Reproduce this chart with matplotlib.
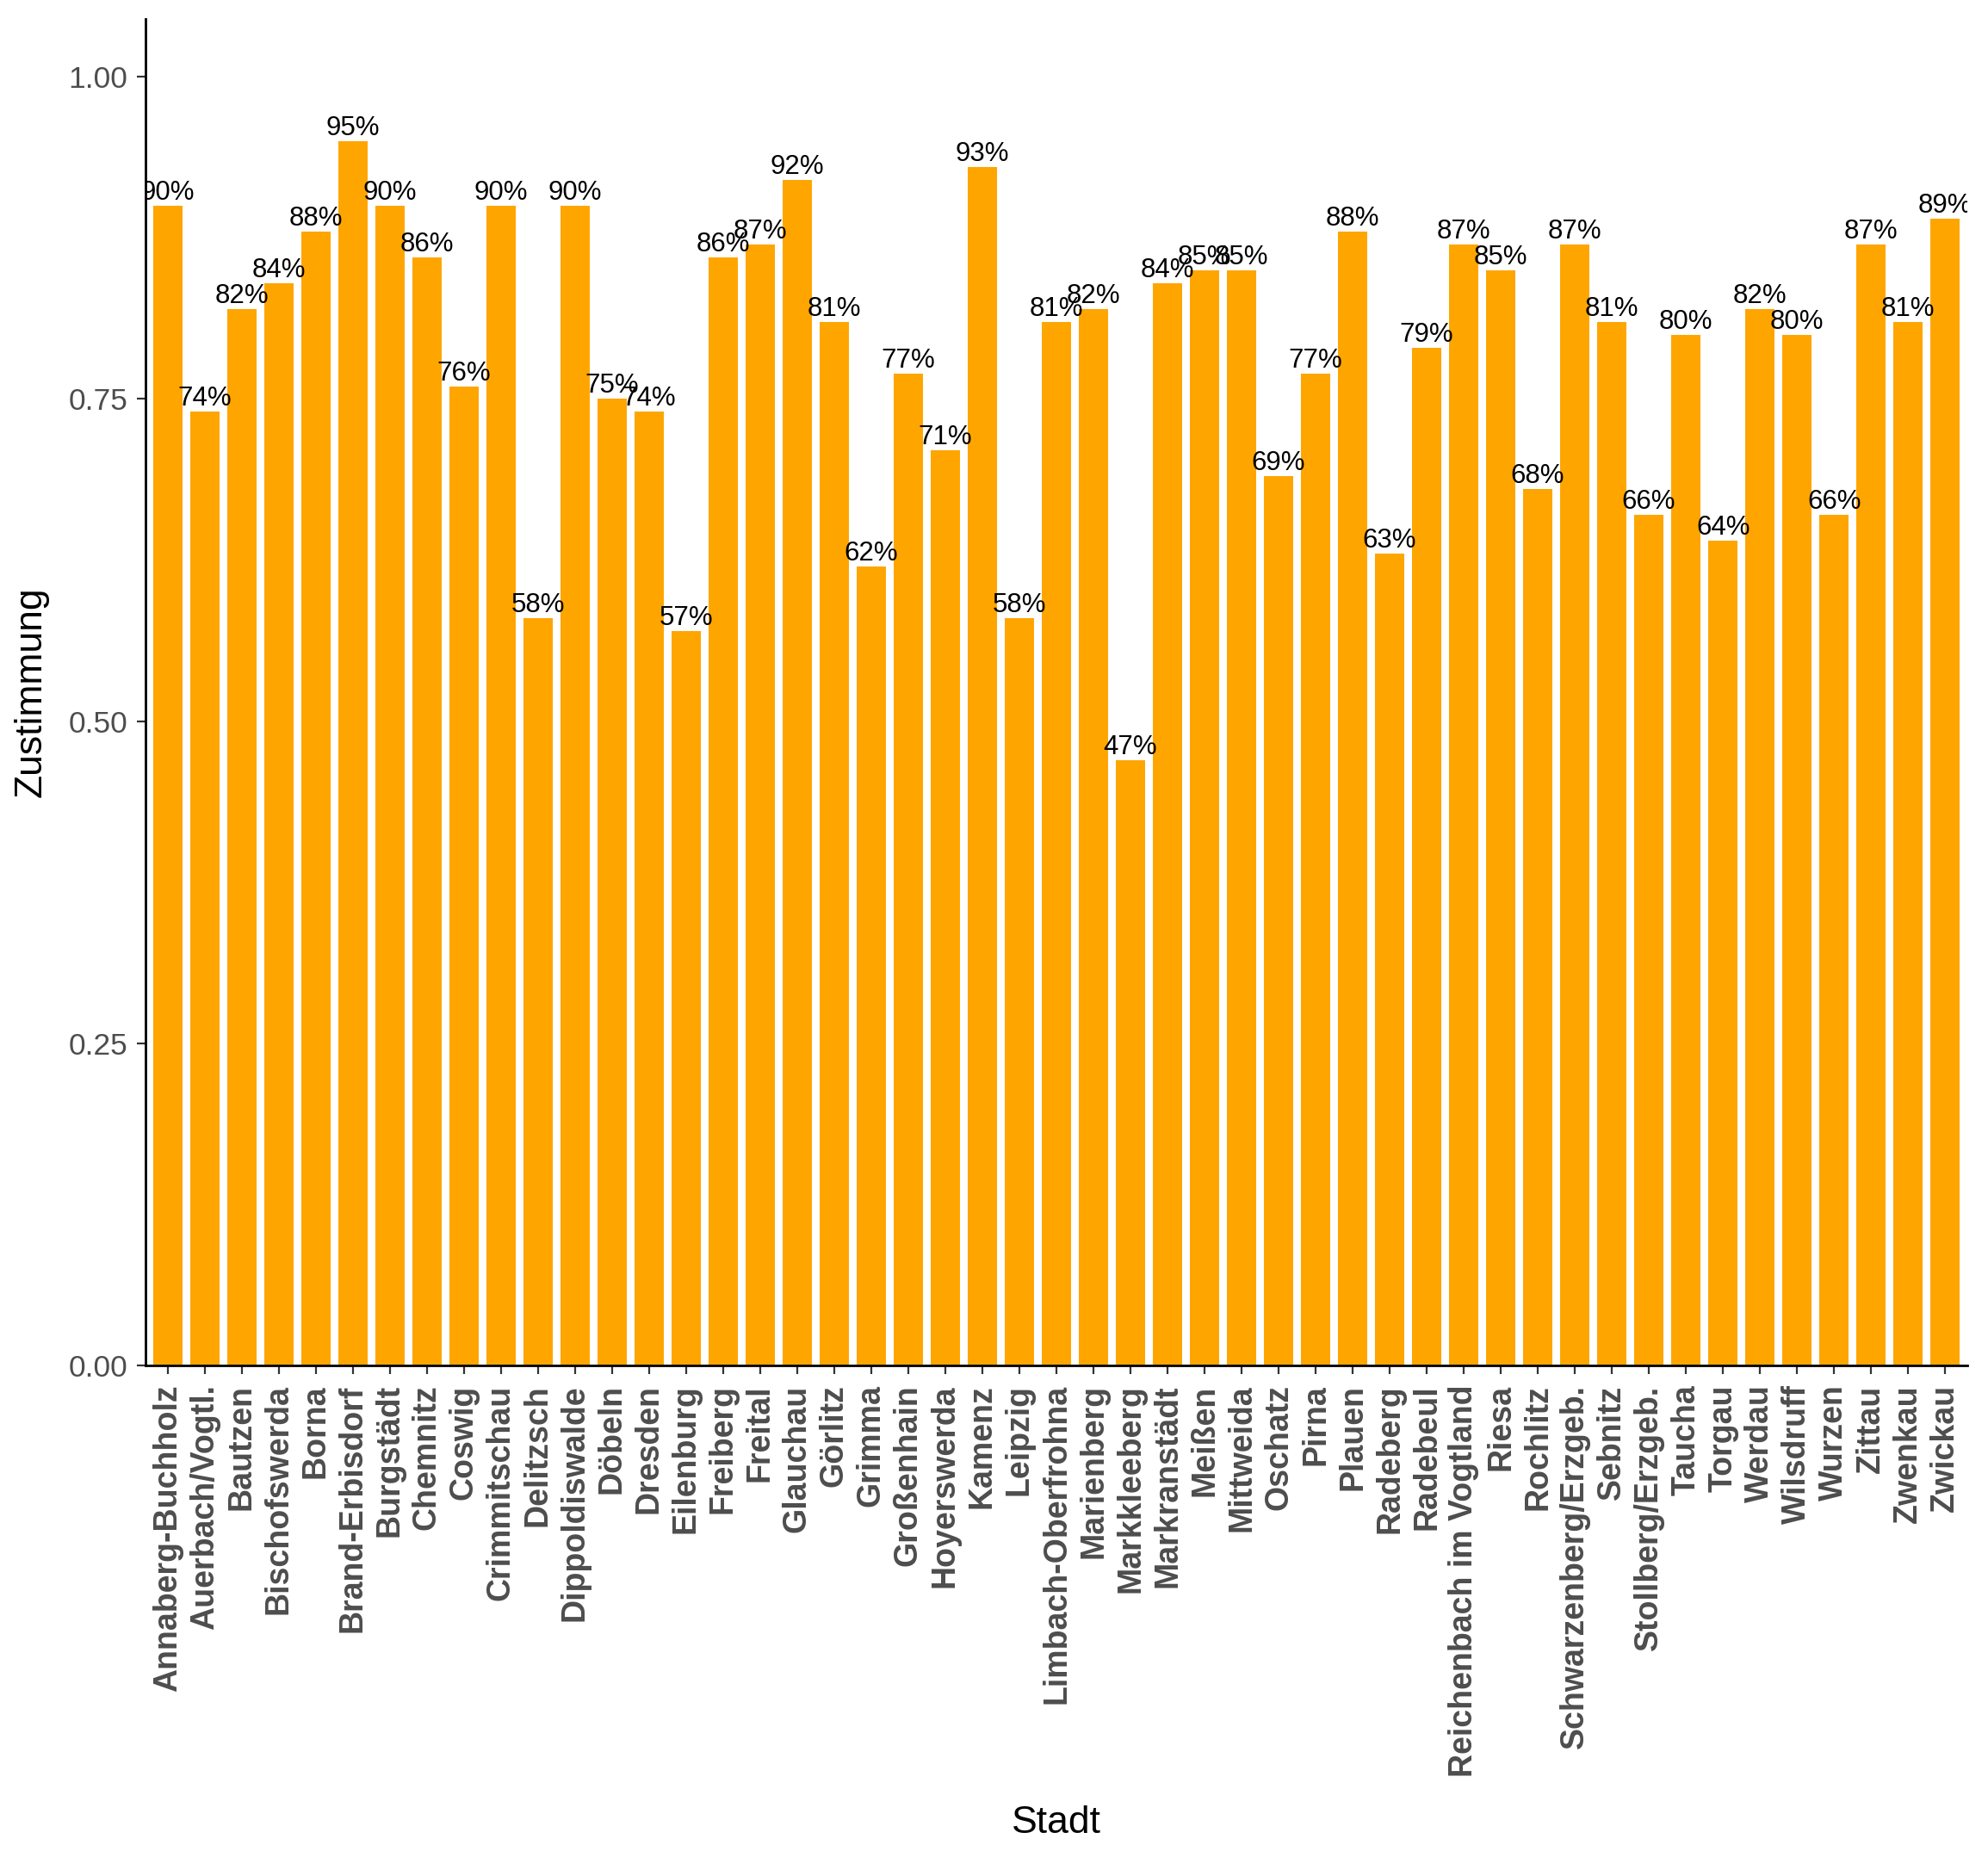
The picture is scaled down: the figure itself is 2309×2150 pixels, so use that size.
import numpy as np
import matplotlib
matplotlib.use("Agg")
import matplotlib.pyplot as plt

plt.rcParams['font.family'] = ['Liberation Sans', 'DejaVu Sans']

## data
staedte = ["Annaberg-Buchholz", "Auerbach/Vogtl.", "Bautzen", "Bischofswerda", "Borna",
           "Brand-Erbisdorf", "Burgstädt", "Chemnitz", "Coswig", "Crimmitschau",
           "Delitzsch", "Dippoldiswalde", "Döbeln", "Dresden", "Eilenburg",
           "Freiberg", "Freital", "Glauchau", "Görlitz", "Grimma",
           "Großenhain", "Hoyerswerda", "Kamenz", "Leipzig", "Limbach-Oberfrohna",
           "Marienberg", "Markkleeberg", "Markranstädt", "Meißen", "Mittweida",
           "Oschatz", "Pirna", "Plauen", "Radeberg", "Radebeul",
           "Reichenbach im Vogtland", "Riesa", "Rochlitz", "Schwarzenberg/Erzgeb.", "Sebnitz",
           "Stollberg/Erzgeb.", "Taucha", "Torgau", "Werdau", "Wilsdruff",
           "Wurzen", "Zittau", "Zwenkau", "Zwickau"]
zustimmung = [0.90, 0.74, 0.82, 0.84, 0.88,
              0.95, 0.90, 0.86, 0.76, 0.90,
              0.58, 0.90, 0.75, 0.74, 0.57,
              0.86, 0.87, 0.92, 0.81, 0.62,
              0.77, 0.71, 0.93, 0.58, 0.81,
              0.82, 0.47, 0.84, 0.85, 0.85,
              0.69, 0.77, 0.88, 0.63, 0.79,
              0.87, 0.85, 0.68, 0.87, 0.81,
              0.66, 0.80, 0.64, 0.82, 0.80,
              0.66, 0.87, 0.81, 0.89]
y_ticks = [0.00, 0.25, 0.50, 0.75, 1.00]

## plot
fig = plt.figure(figsize=(23.09, 21.5), dpi=100)
ax = fig.add_axes([0.0732, 0.2623, 0.9164, 0.7275])

x = np.arange(len(staedte))
ax.bar(x, zustimmung, width=0.8, color="#FFA500")

# labels on top of bars, clipped at the panel like ggplot
for xi, v in zip(x, zustimmung):
    ax.text(xi, v, f"{round(v * 100)}%", ha="center", va="bottom",
            fontsize=22.5, color="black", clip_on=True)

ax.set_xlim(-0.6, len(staedte) - 0.4)
ax.set_ylim(0, 1.045)
ax.set_yticks(y_ticks)
ax.set_yticklabels([f"{t:.2f}" for t in y_ticks])
ax.set_xticks(x)
ax.set_xticklabels(staedte, rotation=90, fontweight="bold", ha="center", va="top")

for side in ["top", "right"]:
    ax.spines[side].set_visible(False)
for side in ["left", "bottom"]:
    ax.spines[side].set_linewidth(2.0)
    ax.spines[side].set_color("black")

ax.tick_params(axis="y", labelsize=25.5, labelcolor="#4D4D4D", color="#333333",
               length=7, width=1.6, pad=8)
ax.tick_params(axis="x", labelsize=27, labelcolor="#4D4D4D", color="#333333",
               length=7, width=1.6, pad=9)

ax.set_xlabel("Stadt", fontsize=32, labelpad=24)
ax.set_ylabel("Zustimmung", fontsize=32, labelpad=16)

plt.savefig("out.png", dpi=100)
